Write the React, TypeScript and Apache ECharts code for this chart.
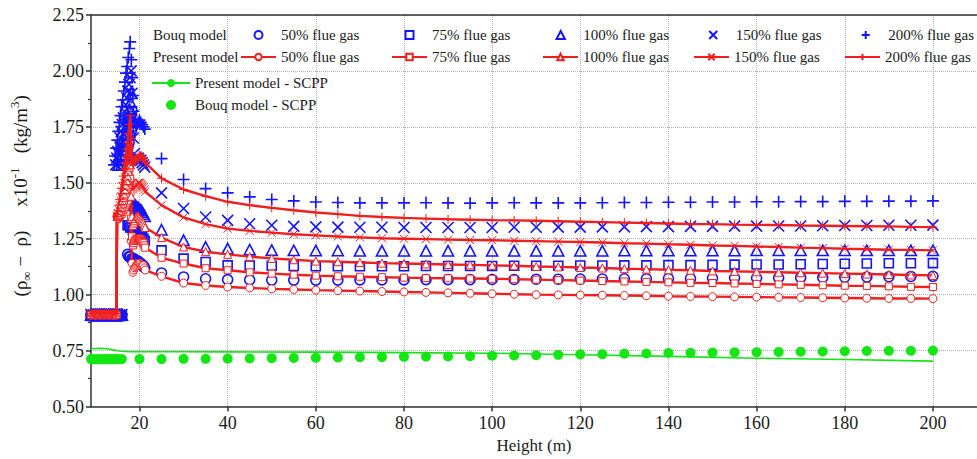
import React, { useEffect, useRef } from "react";
import * as echarts from "echarts";

// ---------- data ----------
const farHeights = [25, 30, 35, 40, 45, 50, 55, 60, 65, 70, 75, 80, 85, 90, 95, 100, 105, 110, 115, 120, 125, 130, 135, 140, 145, 150, 155, 160, 165, 170, 175, 180, 185, 190, 195, 200];
const xTicks = [20, 40, 60, 80, 100, 120, 140, 160, 180, 200];

// Bouq model (markers only), far field
const bouq50Far = [1.097, 1.079, 1.071, 1.067, 1.066, 1.065, 1.065, 1.065, 1.065, 1.066, 1.066, 1.066, 1.067, 1.067, 1.067, 1.068, 1.068, 1.069, 1.069, 1.07, 1.07, 1.071, 1.071, 1.072, 1.072, 1.073, 1.074, 1.074, 1.075, 1.076, 1.077, 1.078, 1.079, 1.08, 1.081, 1.082];
const bouq75Far = [1.198, 1.161, 1.146, 1.131, 1.13, 1.129, 1.128, 1.127, 1.127, 1.127, 1.127, 1.127, 1.128, 1.128, 1.128, 1.128, 1.129, 1.129, 1.129, 1.13, 1.13, 1.131, 1.131, 1.132, 1.132, 1.133, 1.134, 1.135, 1.135, 1.136, 1.137, 1.138, 1.139, 1.14, 1.14, 1.141];
const bouq100Far = [1.29, 1.243, 1.213, 1.206, 1.201, 1.199, 1.198, 1.197, 1.197, 1.196, 1.196, 1.196, 1.196, 1.196, 1.196, 1.196, 1.196, 1.196, 1.196, 1.196, 1.196, 1.197, 1.197, 1.197, 1.197, 1.197, 1.197, 1.198, 1.198, 1.198, 1.198, 1.198, 1.198, 1.198, 1.198, 1.198];
const bouq150Far = [1.455, 1.385, 1.347, 1.332, 1.317, 1.31, 1.305, 1.303, 1.302, 1.301, 1.301, 1.3, 1.3, 1.3, 1.3, 1.3, 1.301, 1.301, 1.302, 1.302, 1.303, 1.303, 1.304, 1.304, 1.305, 1.305, 1.306, 1.306, 1.307, 1.307, 1.308, 1.309, 1.309, 1.31, 1.31, 1.311];
const bouq200Far = [1.608, 1.515, 1.474, 1.455, 1.437, 1.425, 1.419, 1.414, 1.412, 1.41, 1.41, 1.41, 1.411, 1.41, 1.409, 1.41, 1.411, 1.41, 1.41, 1.41, 1.411, 1.412, 1.412, 1.413, 1.413, 1.414, 1.414, 1.415, 1.415, 1.416, 1.416, 1.417, 1.417, 1.418, 1.418, 1.419];

// Bouq model, near field (stack exit region) as [height, value]
const bouq50Near = [[9, 0.905], [9.5, 0.904], [10, 0.905], [10.5, 0.905], [11, 0.904], [11.5, 0.905], [12, 0.905], [12.5, 0.904], [13, 0.905], [13.5, 0.905], [14, 0.904], [14.5, 0.905], [15, 0.905], [15.5, 0.904], [16, 0.905],
  [16.4, 1.58], [16.65, 1.6], [16.9, 1.62], [17.15, 1.64], [17.4, 1.66], [17.65, 1.68], [17.9, 1.71], [18.15, 1.73], [18.4, 1.75],
  [17.3, 1.18], [17.6, 1.17], [17.9, 1.17], [18.2, 1.16], [18.5, 1.16], [18.8, 1.16], [19.1, 1.15], [19.4, 1.15], [19.7, 1.15], [20, 1.14], [20.3, 1.14], [20.6, 1.13], [20.9, 1.13], [21.2, 1.12]];
const bouq75Near = [[9, 0.907], [9.5, 0.906], [10, 0.907], [10.5, 0.907], [11, 0.906], [11.5, 0.907], [12, 0.907], [12.5, 0.906], [13, 0.907], [13.5, 0.907], [14, 0.906], [14.5, 0.907], [15, 0.907], [15.5, 0.906], [16, 0.907],
  [15.8, 1.58], [16.05, 1.6], [16.3, 1.62], [16.55, 1.64], [16.8, 1.66], [17.05, 1.68], [17.3, 1.71], [17.55, 1.74], [17.8, 1.77], [18.05, 1.79], [18.3, 1.82],
  [17.3, 1.31], [17.6, 1.31], [17.9, 1.3], [18.2, 1.3], [18.5, 1.29], [18.8, 1.29], [19.1, 1.29], [19.4, 1.28], [19.7, 1.28], [20, 1.27], [20.3, 1.27], [20.6, 1.26], [20.9, 1.25], [21.2, 1.24]];
const bouq100Near = [[9, 0.909], [9.5, 0.908], [10, 0.909], [10.5, 0.909], [11, 0.908], [11.5, 0.909], [12, 0.909], [12.5, 0.908], [13, 0.909], [13.5, 0.909], [14, 0.908], [14.5, 0.909], [15, 0.909], [15.5, 0.908], [16, 0.909],
  [15.2, 1.58], [15.45, 1.6], [15.7, 1.62], [15.95, 1.65], [16.2, 1.67], [16.45, 1.7], [16.7, 1.72], [16.95, 1.75], [17.2, 1.78], [17.45, 1.8], [17.7, 1.83], [17.95, 1.86], [18.2, 1.9],
  [17.3, 1.44], [17.6, 1.43], [17.9, 1.42], [18.2, 1.41], [18.5, 1.41], [18.8, 1.4], [19.1, 1.4], [19.4, 1.39], [19.7, 1.39], [20, 1.38], [20.3, 1.38], [20.6, 1.37], [20.9, 1.36], [21.2, 1.35]];
const bouq150Near = [[9, 0.911], [9.5, 0.91], [10, 0.911], [10.5, 0.911], [11, 0.91], [11.5, 0.911], [12, 0.911], [12.5, 0.91], [13, 0.911], [13.5, 0.911], [14, 0.91], [14.5, 0.911], [15, 0.911], [15.5, 0.91], [16, 0.911],
  [14.6, 1.58], [14.85, 1.61], [15.1, 1.64], [15.35, 1.67], [15.6, 1.7], [15.85, 1.73], [16.1, 1.76], [16.35, 1.79], [16.6, 1.82], [16.85, 1.85], [17.1, 1.88], [17.35, 1.91], [17.6, 1.94], [17.85, 1.97], [18.1, 2.0], [18.3, 1.9], [18.45, 1.8], [18.6, 1.7],
  [18.8, 1.63], [19.1, 1.61], [19.4, 1.6], [19.7, 1.61], [20, 1.6], [20.3, 1.6], [20.6, 1.59], [20.9, 1.58], [21.2, 1.57]];
const bouq200Near = [[9, 0.913], [9.5, 0.912], [10, 0.913], [10.5, 0.913], [11, 0.912], [11.5, 0.913], [12, 0.913], [12.5, 0.912], [13, 0.913], [13.5, 0.913], [14, 0.912], [14.5, 0.913], [15, 0.913], [15.5, 0.912], [16, 0.913],
  [14.2, 1.58], [14.45, 1.62], [14.7, 1.655], [14.95, 1.69], [15.2, 1.73], [15.45, 1.77], [15.7, 1.8], [15.95, 1.84], [16.2, 1.87], [16.45, 1.91], [16.7, 1.95], [16.95, 1.99], [17.2, 2.02], [17.45, 2.06], [17.7, 2.1], [17.9, 2.13], [18.15, 2.05], [18.35, 1.97], [18.5, 1.89], [18.6, 1.82],
  [18.8, 1.78], [19.1, 1.77], [19.4, 1.76], [19.7, 1.77], [20, 1.78], [20.3, 1.77], [20.6, 1.76], [20.9, 1.75], [21.2, 1.74]];

// Present model (line + markers), far field
const present50Far = [1.082, 1.052, 1.041, 1.034, 1.03, 1.026, 1.023, 1.02, 1.018, 1.016, 1.014, 1.012, 1.01, 1.008, 1.006, 1.004, 1.002, 1.0, 0.999, 0.998, 0.997, 0.996, 0.995, 0.993, 0.992, 0.991, 0.99, 0.989, 0.988, 0.987, 0.986, 0.985, 0.984, 0.983, 0.983, 0.982];
const present75Far = [1.165, 1.139, 1.118, 1.109, 1.1, 1.094, 1.089, 1.085, 1.082, 1.08, 1.078, 1.076, 1.074, 1.073, 1.072, 1.071, 1.069, 1.067, 1.065, 1.063, 1.061, 1.059, 1.057, 1.055, 1.053, 1.052, 1.05, 1.048, 1.046, 1.044, 1.042, 1.04, 1.039, 1.037, 1.035, 1.034];
const present100Far = [1.255, 1.213, 1.192, 1.18, 1.17, 1.162, 1.156, 1.15, 1.147, 1.144, 1.141, 1.139, 1.137, 1.135, 1.133, 1.131, 1.129, 1.126, 1.124, 1.121, 1.119, 1.116, 1.114, 1.111, 1.109, 1.106, 1.104, 1.102, 1.1, 1.098, 1.096, 1.094, 1.092, 1.09, 1.088, 1.086];
const present150Far = [1.4, 1.345, 1.315, 1.295, 1.285, 1.277, 1.27, 1.265, 1.26, 1.256, 1.252, 1.25, 1.248, 1.246, 1.244, 1.243, 1.241, 1.239, 1.237, 1.235, 1.233, 1.23, 1.228, 1.225, 1.223, 1.22, 1.218, 1.215, 1.213, 1.21, 1.208, 1.205, 1.203, 1.201, 1.2, 1.198];
const present200Far = [1.52, 1.47, 1.44, 1.415, 1.4, 1.388, 1.377, 1.367, 1.36, 1.352, 1.347, 1.343, 1.34, 1.337, 1.335, 1.333, 1.332, 1.33, 1.328, 1.326, 1.324, 1.322, 1.32, 1.318, 1.316, 1.315, 1.313, 1.312, 1.311, 1.309, 1.308, 1.307, 1.306, 1.305, 1.303, 1.302];

// Present model, near field as [height, value]
const present50Near = [[9, 0.908], [9.5, 0.909], [10, 0.908], [10.5, 0.909], [11, 0.908], [11.5, 0.909], [12, 0.908], [12.5, 0.909], [13, 0.908], [13.5, 0.909], [14, 0.908], [14.5, 0.909], [14.8, 0.908],
  [14.9, 1.35], [15.1, 1.345], [15.3, 1.34], [15.5, 1.345], [15.7, 1.35], [15.9, 1.355], [16.1, 1.36], [16.3, 1.37], [16.5, 1.38], [16.7, 1.39], [16.9, 1.4], [17.1, 1.41], [17.3, 1.42], [17.5, 1.435], [17.7, 1.445], [17.9, 1.45],
  [18.1, 1.24], [18.3, 1.14], [18.5, 1.1], [18.7, 1.11], [18.9, 1.12], [19.1, 1.125], [19.3, 1.13], [19.5, 1.135], [19.7, 1.14], [19.9, 1.14], [20.1, 1.14], [20.3, 1.135], [20.5, 1.13], [20.7, 1.13], [20.9, 1.13], [21.1, 1.12], [21.3, 1.11]];
const present75Near = [[9, 0.91], [9.5, 0.911], [10, 0.91], [10.5, 0.911], [11, 0.91], [11.5, 0.911], [12, 0.91], [12.5, 0.911], [13, 0.91], [13.5, 0.911], [14, 0.91], [14.5, 0.911], [14.8, 0.91],
  [14.9, 1.35], [15.1, 1.35], [15.3, 1.35], [15.5, 1.36], [15.7, 1.37], [15.9, 1.38], [16.1, 1.39], [16.3, 1.405], [16.5, 1.42], [16.7, 1.435], [16.9, 1.45], [17.1, 1.465], [17.3, 1.48], [17.5, 1.49], [17.7, 1.51], [17.9, 1.52],
  [18.1, 1.34], [18.3, 1.26], [18.5, 1.22], [18.7, 1.23], [18.9, 1.24], [19.1, 1.245], [19.3, 1.25], [19.5, 1.25], [19.7, 1.25], [19.9, 1.25], [20.1, 1.25], [20.3, 1.245], [20.5, 1.24], [20.7, 1.235], [20.9, 1.23], [21.1, 1.22], [21.3, 1.21]];
const present100Near = [[9, 0.912], [9.5, 0.913], [10, 0.912], [10.5, 0.913], [11, 0.912], [11.5, 0.913], [12, 0.912], [12.5, 0.913], [13, 0.912], [13.5, 0.913], [14, 0.912], [14.5, 0.913], [14.8, 0.912],
  [14.9, 1.35], [15.1, 1.355], [15.3, 1.36], [15.5, 1.375], [15.7, 1.39], [15.9, 1.405], [16.1, 1.42], [16.3, 1.435], [16.5, 1.45], [16.7, 1.47], [16.9, 1.49], [17.1, 1.51], [17.3, 1.53], [17.5, 1.55], [17.7, 1.57], [17.9, 1.58],
  [18.1, 1.44], [18.3, 1.35], [18.5, 1.31], [18.7, 1.32], [18.9, 1.33], [19.1, 1.34], [19.3, 1.35], [19.5, 1.35], [19.7, 1.35], [19.9, 1.345], [20.1, 1.34], [20.3, 1.335], [20.5, 1.33], [20.7, 1.325], [20.9, 1.32], [21.1, 1.31], [21.3, 1.3]];
const present150Near = [[9, 0.914], [9.5, 0.915], [10, 0.914], [10.5, 0.915], [11, 0.914], [11.5, 0.915], [12, 0.914], [12.5, 0.915], [13, 0.914], [13.5, 0.915], [14, 0.914], [14.5, 0.915], [14.8, 0.914],
  [14.9, 1.35], [15.1, 1.365], [15.3, 1.38], [15.5, 1.4], [15.7, 1.42], [15.9, 1.44], [16.1, 1.46], [16.3, 1.48], [16.5, 1.5], [16.7, 1.525], [16.9, 1.55], [17.1, 1.575], [17.3, 1.6], [17.5, 1.63], [17.7, 1.66], [17.9, 1.68],
  [18.1, 1.58], [18.3, 1.5], [18.5, 1.47], [18.7, 1.475], [18.9, 1.48], [19.1, 1.485], [19.3, 1.49], [19.5, 1.495], [19.7, 1.5], [19.9, 1.5], [20.1, 1.5], [20.3, 1.495], [20.5, 1.49], [20.7, 1.485], [20.9, 1.48], [21.1, 1.47], [21.3, 1.46]];
const present200Near = [[9, 0.916], [9.5, 0.917], [10, 0.916], [10.5, 0.917], [11, 0.916], [11.5, 0.917], [12, 0.916], [12.5, 0.917], [13, 0.916], [13.5, 0.917], [14, 0.916], [14.5, 0.917], [14.8, 0.916],
  [14.9, 1.35], [15.1, 1.375], [15.3, 1.4], [15.5, 1.425], [15.7, 1.45], [15.9, 1.475], [16.1, 1.5], [16.3, 1.53], [16.5, 1.56], [16.7, 1.59], [16.9, 1.62], [17.1, 1.65], [17.3, 1.68], [17.5, 1.72], [17.7, 1.76], [17.9, 1.8],
  [18.1, 1.7], [18.3, 1.62], [18.5, 1.58], [18.7, 1.59], [18.9, 1.6], [19.1, 1.6], [19.3, 1.61], [19.5, 1.61], [19.7, 1.61], [19.9, 1.62], [20.1, 1.62], [20.3, 1.62], [20.5, 1.62], [20.7, 1.61], [20.9, 1.61], [21.1, 1.6], [21.3, 1.59]];

// SCPP
const scppLineHeights = [9, 10, 11, 12, 13, 14, 15, 16, 17, 18, 20, 30, 40, 60, 80, 100, 120, 140, 160, 180, 200];
const scppLineValues = [0.758, 0.759, 0.76, 0.759, 0.757, 0.753, 0.749, 0.747, 0.746, 0.745, 0.745, 0.745, 0.744, 0.743, 0.741, 0.738, 0.731, 0.724, 0.716, 0.71, 0.703];
const scppDotHeights = [9, 9.5, 10, 10.5, 11, 11.5, 12, 12.5, 13, 13.5, 14, 14.5, 15, 15.5, 16, 20, 25, 30, 35, 40, 45, 50, 55, 60, 65, 70, 75, 80, 85, 90, 95, 100, 105, 110, 115, 120, 125, 130, 135, 140, 145, 150, 155, 160, 165, 170, 175, 180, 185, 190, 195, 200];
const scppDotValues = [0.712, 0.711, 0.712, 0.711, 0.712, 0.711, 0.712, 0.711, 0.712, 0.711, 0.712, 0.711, 0.712, 0.711, 0.712, 0.712, 0.712, 0.713, 0.713, 0.714, 0.715, 0.716, 0.717, 0.718, 0.719, 0.72, 0.721, 0.722, 0.723, 0.724, 0.725, 0.727, 0.728, 0.729, 0.731, 0.733, 0.734, 0.736, 0.737, 0.739, 0.74, 0.741, 0.742, 0.743, 0.744, 0.745, 0.746, 0.747, 0.748, 0.749, 0.749, 0.75];

const gasLabels = ["50% flue gas", "75% flue gas", "100% flue gas", "150% flue gas", "200% flue gas"];

// ---------- styling ----------
const FONT = "Liberation Serif";
const BLUE = "#1414ff";
const RED = "#f01e1e";
const GREEN = "#14e614";
const TXT = "#1a1a1a";

const PLUS = "path://M5,0 L5,10 M0,5 L10,5";
const CROSS = "path://M0,0 L10,10 M10,0 L0,10";
const RECT = "path://M0,0 L10,0 L10,10 L0,10 Z";
const TRI = "path://M5,0 L10,9.5 L0,9.5 Z";
const CIRC = "path://M0,5 A5,5 0 1,1 10,5 A5,5 0 1,1 0,5 Z";

const bouqSymbols = [CIRC, RECT, TRI, CROSS, PLUS];
const bouqSizes = [10, 9, 11, 11, 12];
const presentSymbols = ["circle", "rect", "triangle", CROSS, PLUS];
const presentSizes = [8, 7, 8, 8, 9];

function combine(near: number[][], far: number[]) {
  return near.concat(farHeights.map((h, i) => [h, far[i]]));
}

export default function App() {
  const ref = useRef<HTMLDivElement>(null);
  useEffect(() => {
    document.body.style.margin = "0";
    const chart = echarts.init(ref.current!, null, { renderer: "svg" });

    const bouqNear = [bouq50Near, bouq75Near, bouq100Near, bouq150Near, bouq200Near];
    const bouqFar = [bouq50Far, bouq75Far, bouq100Far, bouq150Far, bouq200Far];
    const presNear = [present50Near, present75Near, present100Near, present150Near, present200Near];
    const presFar = [present50Far, present75Far, present100Far, present150Far, present200Far];

    const bouqNames = gasLabels.map((g) => g);
    const presNames = gasLabels.map((g) => g + "\u200b");

    const series: any[] = [];
    series.push({
      name: "Present model - SCPP",
      type: "line",
      data: scppLineHeights.map((h, i) => [h, scppLineValues[i]]),
      showSymbol: false,
      symbol: "none",
      lineStyle: { color: GREEN, width: 1.6 },
      itemStyle: { color: GREEN },
      z: 2,
    });
    series.push({
      name: "Bouq model - SCPP",
      type: "scatter",
      data: scppDotHeights.map((h, i) => [h, scppDotValues[i]]),
      symbol: "circle",
      symbolSize: 10,
      itemStyle: { color: GREEN, opacity: 1 },
      z: 2,
    });
    for (let k = 0; k < 5; k++) {
      const isStroke = k >= 3;
      series.push({
        name: bouqNames[k],
        type: "scatter",
        data: combine(bouqNear[k], bouqFar[k]),
        symbol: bouqSymbols[k],
        symbolSize: bouqSizes[k],
        symbolKeepAspect: true,
        itemStyle: {
          color: isStroke ? "none" : "rgba(255,255,255,0)",
          borderColor: BLUE,
          borderWidth: 1.6,
          opacity: 1,
        },
        z: 3,
      });
    }
    for (let k = 0; k < 5; k++) {
      series.push({
        name: presNames[k],
        type: "line",
        data: combine(presNear[k], presFar[k]),
        symbol: presentSymbols[k],
        symbolSize: presentSizes[k],
        symbolKeepAspect: true,
        showSymbol: true,
        showAllSymbol: true,
        lineStyle: { color: RED, width: 2.4 },
        itemStyle: { color: k >= 3 ? "none" : "#ffffff", borderColor: RED, borderWidth: 1 },
        z: 4,
      });
    }

    const legendText = { fontFamily: FONT, fontSize: 15, color: TXT, width: 86, lineHeight: 16 };

    const option: any = {
      animation: false,
      backgroundColor: "#ffffff",
      textStyle: { fontFamily: FONT },
      grid: { left: 81.5, right: -2, top: 15, bottom: 52.5, containLabel: false },
      xAxis: [
        {
          type: "value",
          min: 9,
          max: 210,
          name: "Height (m)",
          nameLocation: "middle",
          nameGap: 30,
          nameTextStyle: { fontFamily: FONT, fontSize: 17, color: TXT },
          axisLine: { show: true, onZero: false, lineStyle: { color: "#333", width: 1.5 } },
          axisTick: { show: true, inside: false, length: 5, lineStyle: { color: "#333", width: 1.5 }, customValues: xTicks },
          axisLabel: { fontFamily: FONT, fontSize: 18, color: TXT, margin: 7, customValues: xTicks },
          splitLine: { show: true, lineStyle: { color: "#b0b0b0", type: "dotted", width: 1 } },
        },
        {
          type: "value",
          position: "top",
          min: 9,
          max: 210,
          axisLine: { show: true, onZero: false, lineStyle: { color: "#333", width: 1.5 } },
          axisTick: { show: false },
          axisLabel: { show: false },
          splitLine: { show: false },
        },
      ],
      yAxis: {
        type: "value",
        min: 0.5,
        max: 2.25,
        interval: 0.25,
        name: "{t|(ρ}{s|∞}{t| −  ρ)     x10}{p|-1}{t|   (kg/m}{p|3}{t|)}",
        nameLocation: "middle",
        nameGap: 58,
        nameRotate: 90,
        nameTextStyle: {
          fontFamily: FONT,
          fontSize: 19,
          color: TXT,
          padding: [0, 0, 0, 30],
          rich: {
            t: { fontFamily: FONT, fontSize: 19, color: TXT, lineHeight: 25 },
            s: { fontFamily: FONT, fontSize: 13, color: TXT, verticalAlign: "bottom" },
            p: { fontFamily: FONT, fontSize: 13, color: TXT, verticalAlign: "top" },
          },
        },
        axisLine: { show: true, lineStyle: { color: "#333", width: 1.5 } },
        axisTick: { show: true, length: 5, lineStyle: { color: "#333", width: 1.5 } },
        minorTick: { show: true, splitNumber: 2, length: 3, lineStyle: { color: "#333", width: 1.2 } },
        axisLabel: {
          fontFamily: FONT,
          fontSize: 18,
          color: TXT,
          margin: 7,
          formatter: (v: number) => v.toFixed(2),
        },
        splitLine: { show: true, lineStyle: { color: "#b0b0b0", type: "dotted", width: 1 } },
      },
      legend: [
        {
          left: 253.5,
          top: 27,
          padding: 0,
          itemWidth: 35,
          itemHeight: 8,
          itemGap: 37.5,
          symbolKeepAspect: true,
          selectedMode: false,
          data: bouqNames,
          textStyle: legendText,
        },
        {
          left: 240,
          top: 49,
          padding: 0,
          itemWidth: 35,
          itemHeight: 8,
          itemGap: 24,
          selectedMode: false,
          data: presNames,
          textStyle: legendText,
        },
        {
          left: 151,
          top: 75,
          padding: 0,
          orient: "vertical",
          itemWidth: 38,
          itemHeight: 10,
          itemGap: 6,
          selectedMode: false,
          data: ["Present model - SCPP", "Bouq model - SCPP"],
          textStyle: { fontFamily: FONT, fontSize: 15, color: TXT, lineHeight: 16 },
        },
      ],
      graphic: [
        { type: "text", left: 153, top: 27, style: { text: "Bouq model", fontFamily: FONT, fontSize: 15, fill: TXT } },
        { type: "text", left: 153, top: 49, style: { text: "Present model", fontFamily: FONT, fontSize: 15, fill: TXT } },
      ],
      series,
    };
    chart.setOption(option);
    return () => chart.dispose();
  }, []);
  return <div ref={ref} style={{ position: "absolute", left: 0, top: 0, width: 977, height: 459 }} />;
}
